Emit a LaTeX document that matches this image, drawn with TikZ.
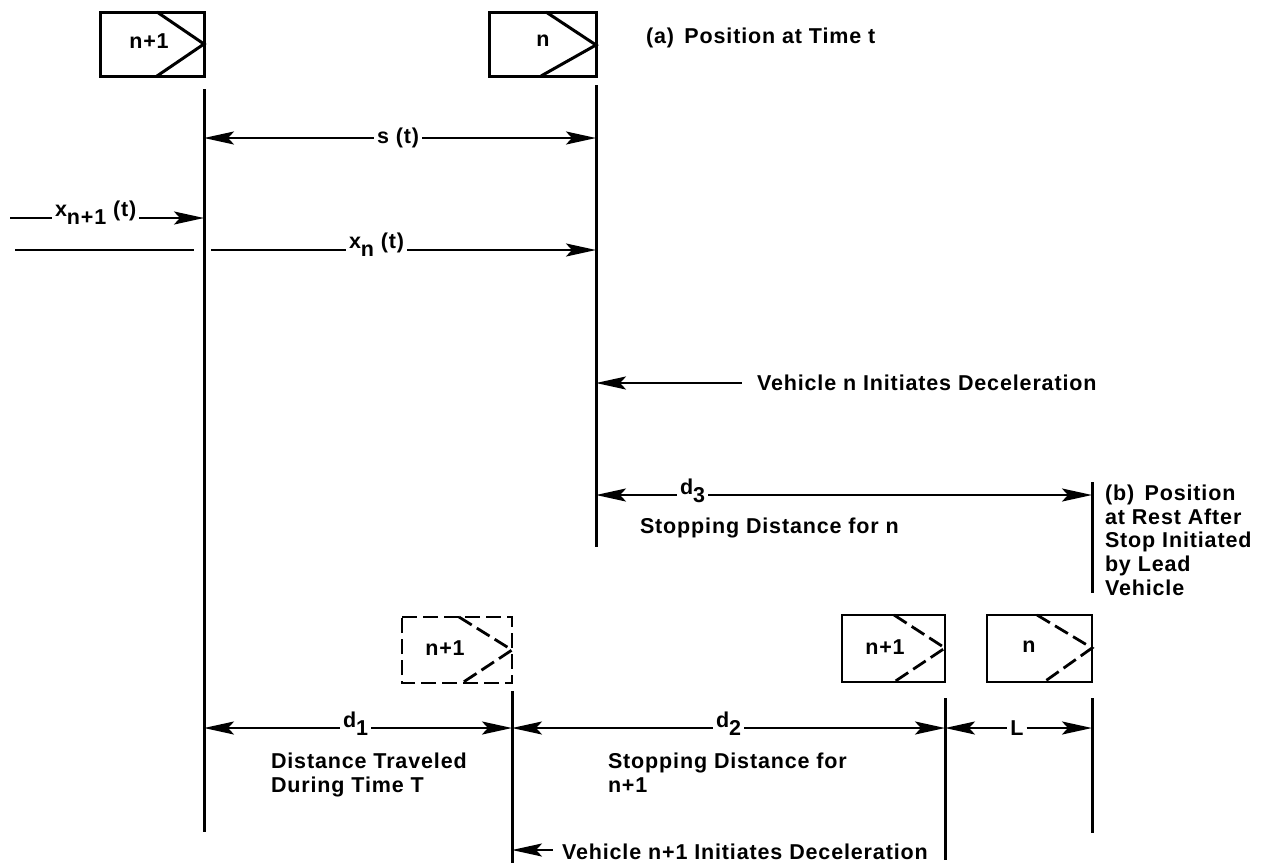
\documentclass[tikz,border=0pt]{standalone}
\usepackage{fontspec}
\setmainfont{Liberation Sans}[BoldFont=Liberation Sans Bold,LetterSpace=4]
\usetikzlibrary{arrows.meta}
\tikzset{
  x=1pt,y=-1pt,
  txt/.style={font=\fontsize{21.5}{23.7}\selectfont\bfseries,inner sep=0pt,outer sep=3pt,text=black},
  para/.style={txt,anchor=north west,align=left},
  boxline/.style={line width=3pt,line join=miter},
  lowbox/.style={line width=2.6pt,line join=miter},
  dashline/.style={line width=2.8pt,dash pattern=on 15pt off 6pt},
  wall/.style={line width=3pt},
  dim/.style={line width=2.4pt},
  tipr/.style={-{Stealth[length=30pt,width=13pt,inset=6pt]}},
  tipl/.style={{Stealth[length=30pt,width=13pt,inset=6pt]}-},
}
\newcommand{\subtxt}[1]{\raisebox{-8pt}{#1}}
\begin{document}
\begin{tikzpicture}
\useasboundingbox[fill=white] (0,0) rectangle (1266,863);
% top vehicles
\draw[boxline] (100,12) rectangle (204,76);
\draw[boxline] (157,12) -- (204,44) -- (157,76);
\node[txt] (c1) at (149,41) {n+1};
\draw[boxline] (489,12) rectangle (596,76);
\draw[boxline] (546,12) -- (596,45) -- (541,76);
\node[txt] (c2) at (543,41) {n};
\node[para,anchor=west] (pa) at (643,38) {(a)\, Position at Time t};
% verticals
\coordinate (a1) at (204,89); \coordinate (a2) at (204,832);
\coordinate (b1) at (596,85); \coordinate (b2) at (596,547);
\coordinate (e1) at (512,691); \coordinate (e2) at (512,863);
\coordinate (f1) at (945,698); \coordinate (f2) at (945,860);
\coordinate (g1) at (1092,698); \coordinate (g2) at (1092,833);
\coordinate (h1) at (1092,482); \coordinate (h2) at (1092,593);
\foreach \p/\q in {a1/a2,b1/b2,e1/e2,f1/f2,g1/g2,h1/h2} \draw[wall] (\p) -- (\q);
% s(t)
\node[txt] (st) at (398,138) {s (t)};
\draw[dim,tipl] (204,138) -- (st.west);
\draw[dim,tipr] (st.east) -- (596,138);
% x_{n+1}
\coordinate (xs) at (10,218);
\node[txt,anchor=west] (x1) at (52,213) {x\subtxt{n+1} (t)};
\draw[dim] (xs) -- (x1.west |- xs);
\draw[dim,tipr] (x1.east |- xs) -- (204,218);
% x_n
\coordinate (ys) at (15,250); \coordinate (ye) at (194,250);
\draw[dim] (ys) -- (ye);
\node[txt,anchor=west] (x2) at (346,245) {x\subtxt{n} (t)};
\draw[dim] (211,250) -- (x2.west |- ys);
\draw[dim,tipr] (x2.east |- ys) -- (596,250);
% Vehicle n
\node[txt,anchor=west] (vn) at (754,383) {Vehicle n Initiates Deceleration};
\draw[dim,tipl] (596,383) -- (742,383);
% d3
\node[txt,anchor=west] (d3) at (677,491) {d\subtxt{3}};
\draw[dim,tipl] (596,495) -- (d3.west |- 596,495);
\draw[dim,tipr] (d3.east |- 596,495) -- (1092,495);
\node[para,anchor=west] (sn) at (637,528) {Stopping Distance for n};
\node[para,anchor=north west] (pb) at (1102,482) {(b)\, Position\\at Rest After\\Stop Initiated\\by Lead\\Vehicle};
% bottom vehicles
\draw[dashline] (402,617) -- (512,617) -- (512,683) -- (402,683) -- cycle;
\draw[dashline] (459,617) -- (512,650) -- (462,683);
\node[txt] (c3) at (445,648) {n+1};
\draw[lowbox] (842,615) rectangle (945,682);
\draw[dashline] (894,615) -- (945,648) -- (894,682);
\node[txt] (c4) at (885,647) {n+1};
\draw[lowbox] (987,615) rectangle (1092,682);
\draw[dashline] (1037,615) -- (1092,648) -- (1044,682);
\node[txt] (c5) at (1029,647) {n};
% d1
\node[txt,anchor=west] (d1) at (340,724) {d\subtxt{1}};
\draw[dim,tipl] (204,728) -- (d1.west |- 204,728);
\draw[dim,tipr] (d1.east |- 204,728) -- (512,728);
% d2
\node[txt,anchor=west] (d2) at (713,724) {d\subtxt{2}};
\draw[dim,tipl] (512,728) -- (d2.west |- 512,728);
\draw[dim,tipr] (d2.east |- 512,728) -- (945,728);
% L
\node[txt] (ll) at (1017,728) {L};
\draw[dim,tipl] (945,728) -- (ll.west);
\draw[dim,tipr] (ll.east) -- (1092,728);
\node[para] (t1) at (268,750) {Distance Traveled\\During Time T};
\node[para] (t2) at (605,750) {Stopping Distance for\\n+1};
% Vehicle n+1
\node[txt,anchor=west] (vn1) at (559,852) {Vehicle n+1 Initiates Deceleration};
\draw[dim,tipl] (512,850) -- (553,850);
\end{tikzpicture}
\end{document}
